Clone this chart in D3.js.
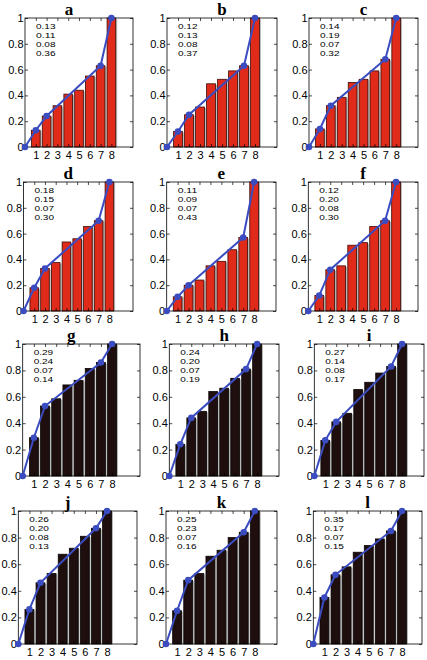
<!DOCTYPE html>
<html><head><meta charset="utf-8">
<script src="https://cdn.jsdelivr.net/npm/d3@7"></script>
<style>
body{margin:0;background:#fff;}
svg{display:block;}
</style></head>
<body>
<svg id="chart" width="427" height="660"></svg>
<script>
// ---- data ----
const panelTitles = ["a","b","c","d","e","f","g","h","i","j","k","l"];
const categories = [1,2,3,4,5,6,7,8];
const yTicks = [0,0.2,0.4,0.6,0.8,1];
const barsA = [0.13,0.24,0.32,0.41,0.44,0.55,0.63,1.0];
const barsB = [0.12,0.25,0.31,0.49,0.525,0.59,0.63,1.0];
const barsC = [0.14,0.32,0.385,0.50,0.525,0.59,0.68,1.0];
const barsD = [0.18,0.33,0.375,0.535,0.56,0.655,0.70,1.0];
const barsE = [0.11,0.20,0.24,0.35,0.385,0.475,0.57,1.0];
const barsF = [0.12,0.32,0.35,0.51,0.53,0.655,0.70,1.0];
const barsG = [0.29,0.53,0.585,0.69,0.725,0.815,0.86,1.0];
const barsH = [0.24,0.44,0.49,0.64,0.665,0.74,0.81,1.0];
const barsI = [0.27,0.41,0.475,0.655,0.71,0.78,0.83,1.0];
const barsJ = [0.26,0.46,0.53,0.675,0.72,0.81,0.87,1.0];
const barsK = [0.25,0.48,0.53,0.66,0.705,0.80,0.84,1.0];
const barsL = [0.35,0.52,0.58,0.69,0.74,0.79,0.85,1.0];
const allBars = [barsA,barsB,barsC,barsD,barsE,barsF,barsG,barsH,barsI,barsJ,barsK,barsL];
const lineX = [0,1,2,7,8];
const labelsA = ["0.13","0.11","0.08","0.36"];
const labelsB = ["0.12","0.13","0.08","0.37"];
const labelsC = ["0.14","0.19","0.07","0.32"];
const labelsD = ["0.18","0.15","0.07","0.30"];
const labelsE = ["0.11","0.09","0.07","0.43"];
const labelsF = ["0.12","0.20","0.08","0.30"];
const labelsG = ["0.29","0.24","0.07","0.14"];
const labelsH = ["0.24","0.20","0.07","0.19"];
const labelsI = ["0.27","0.14","0.08","0.17"];
const labelsJ = ["0.26","0.20","0.08","0.13"];
const labelsK = ["0.25","0.23","0.07","0.16"];
const labelsL = ["0.35","0.17","0.07","0.15"];
const allLabels = [labelsA,labelsB,labelsC,labelsD,labelsE,labelsF,labelsG,labelsH,labelsI,labelsJ,labelsK,labelsL];

// ---- layout ----
const rowTop = [18, 182, 344, 511];
const rowBottom = [147, 311, 476, 644];
const panelLeft = [25,167,309, 23.5,166.7,308.3, 22.7,169.3,314.3, 18.3,166,313.3];
const panelRight = [133,277,418, 133,276,418, 140,279,424, 137,277,422];
const panelXMax = [10,10,10, 10.2,10,10, 10.5,10,10, 10.7,10,9.8];
const titleDx = [-10,0,0];
const barColors = ["#e02b1b","#1e0e0e"];
const barEdge = ["#3a0a05","#0a0505"];
const lineColor = "#3a4cc0";

const svg = d3.select("#chart");
const fmt = d => String(d);
const font = "'Liberation Sans', Arial, sans-serif";

allBars.forEach((bars, i) => {
  const r = Math.floor(i/3), c = i%3;
  const L = panelLeft[i], R = panelRight[i], T = rowTop[r], B = rowBottom[r];
  const x = d3.scaleLinear().domain([0, panelXMax[i]]).range([L, R]);
  const y = d3.scaleLinear().domain([0, 1]).range([B, T]);
  const g = svg.append("g");
  const bw = x(0.8) - x(0);
  const dark = r >= 2 ? 1 : 0;

  // shadows
  g.selectAll("rect.sh").data(bars).join("rect").attr("class","sh")
    .attr("x", (d,k) => x(categories[k]) - bw/2 + 1.5)
    .attr("y", d => y(d) + 1)
    .attr("width", bw).attr("height", d => y(0) - y(d) - 1)
    .attr("fill", "#b8b8b8");
  g.selectAll("rect.bar").data(bars).join("rect").attr("class","bar")
    .attr("x", (d,k) => x(categories[k]) - bw/2)
    .attr("y", d => y(d))
    .attr("width", bw).attr("height", d => y(0) - y(d))
    .attr("fill", barColors[dark]).attr("stroke", barEdge[dark]).attr("stroke-width", 0.8);

  // box
  g.append("rect").attr("x", L).attr("y", T).attr("width", R-L).attr("height", B-T)
    .attr("fill", "none").attr("stroke", "#000").attr("stroke-width", 0.8);

  const ax = [
    g.append("g").attr("transform", `translate(${L},0)`).call(d3.axisLeft(y).tickValues(yTicks).tickFormat(fmt).tickSize(-3).tickPadding(1.5)),
    g.append("g").attr("transform", `translate(${R},0)`).call(d3.axisRight(y).tickValues(yTicks).tickFormat("").tickSize(-3)),
    g.append("g").attr("transform", `translate(0,${B})`).call(d3.axisBottom(x).tickValues(categories).tickFormat(fmt).tickSize(-3).tickPadding(4.5)),
    g.append("g").attr("transform", `translate(0,${T})`).call(d3.axisTop(x).tickValues(categories).tickFormat("").tickSize(-3))
  ];
  ax.forEach(a => {
    a.select(".domain").remove();
    a.attr("font-family", font);
    a.selectAll("line").attr("stroke", "#000").attr("stroke-width", 0.7);
    a.selectAll("text").attr("font-family", font).attr("font-size", 11).attr("fill", "#000");
  });

  // line
  const pts = lineX.map(v => [v, v === 0 ? 0 : bars[v-1]]);
  g.append("path").datum(pts)
    .attr("d", d3.line().x(d => x(d[0])).y(d => y(d[1])))
    .attr("fill", "none").attr("stroke", lineColor).attr("stroke-width", 2);
  g.selectAll("circle").data(pts).join("circle")
    .attr("cx", d => x(d[0])).attr("cy", d => y(d[1])).attr("r", 3.3)
    .attr("fill", lineColor);

  // numbers
  g.selectAll("text.num").data(allLabels[i]).join("text").attr("class","num")
    .attr("x", L + 11).attr("y", (d,k) => T + 11 + k*9)
    .attr("font-family", font).attr("font-size", 7.9).attr("fill", "#000")
    .attr("textLength", 19.5).attr("lengthAdjust", "spacingAndGlyphs")
    .text(d => d);

  // title
  g.append("text").attr("x", (L+R)/2 + titleDx[c]).attr("y", T - 3)
    .attr("text-anchor","middle")
    .attr("font-family","'Liberation Serif','Times New Roman',serif")
    .attr("font-weight","bold").attr("font-size",17)
    .text(panelTitles[i]);
});
</script>
</body></html>
